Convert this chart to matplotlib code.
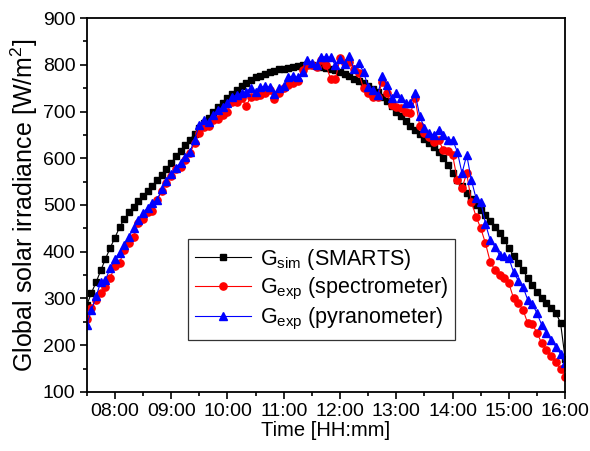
import numpy as np
import matplotlib
matplotlib.use('Agg')
import matplotlib.pyplot as plt
from matplotlib.ticker import MultipleLocator, FuncFormatter

plt.rcParams['font.family'] = ['Liberation Sans', 'DejaVu Sans']
plt.rcParams['mathtext.fontset'] = 'custom'
plt.rcParams['mathtext.rm'] = 'Liberation Sans'

# 5-minute samples, 07:30 .. 16:00 (hours)
hours = 7.5 + np.arange(103) / 12

g_sim = [285, 312, 335, 360, 385, 408, 430, 452, 470, 484,
         496, 508, 519, 530, 541, 553, 565, 576, 590, 604,
         616, 628, 640, 652, 664, 676, 687, 698, 709, 719,
         729, 738, 747, 755, 762, 768, 773, 777, 781, 784,
         787, 790, 792, 794, 796, 798, 799, 800, 799, 798,
         796, 794, 791, 788, 784, 780, 775, 770, 765, 760,
         755, 749, 741, 732, 722, 711, 700, 690, 680, 670,
         661, 652, 642, 632, 623, 614, 601, 585, 568, 554,
         540, 526, 513, 501, 490, 478, 466, 453, 440, 424,
         408, 391, 376, 360, 344, 328, 314, 302, 291, 280,
         269, 248, 170]

g_spectro = [255, 280, 297, 312, 325, 343, 370, 376, 404, 418,
             432, 461, 470, 486, 487, 511, 530, 546, 563, 578,
             582, 596, 611, 632, 653, 667, 669, 682, 685, 693,
             700, 721, 721, 728, 712, 732, 733, 735, 739, 746,
             726, 739, 750, 757, 760, 766, 789, 800, 800, 795,
             810, 800, 769, 769, 814, 803, 807, 792, 782, 750,
             739, 732, 730, 764, 739, 714, 710, 707, 700, 696,
             728, 668, 653, 646, 635, 639, 618, 615, 607, 553,
             536, 568, 507, 475, 450, 418, 379, 361, 350, 343,
             332, 300, 290, 276, 247, 245, 226, 204, 190, 176,
             163, 150, 131]

g_pyrano = [243, 275, 305, 335, 340, 365, 385, 398, 415, 432,
            450, 468, 482, 494, 505, 510, 535, 552, 567, 580,
            590, 603, 614, 640, 671, 682, 678, 693, 703, 710,
            718, 732, 735, 739, 742, 750, 742, 752, 754, 752,
            738, 750, 754, 773, 776, 773, 785, 810, 804, 799,
            817, 817, 816, 799, 812, 802, 819, 790, 803, 785,
            752, 746, 735, 776, 757, 728, 739, 728, 718, 719,
            739, 690, 664, 653, 650, 660, 650, 639, 639, 614,
            568, 607, 553, 514, 507, 460, 425, 411, 393, 390,
            386, 356, 338, 325, 297, 288, 268, 243, 227, 211,
            197, 181, 161]

fig = plt.figure(figsize=(5.9, 4.51), dpi=100)
ax = fig.add_axes([0.147, 0.131, 0.811, 0.829])

ax.plot(hours, g_sim, '-s', color='black', lw=0.8, ms=4.2,
        label=r'G$_\mathregular{sim}$ (SMARTS)')
ax.plot(hours, g_spectro, '-o', color='red', lw=0.8, ms=5.2,
        label=r'G$_\mathregular{exp}$ (spectrometer)')
ax.plot(hours, g_pyrano, '-^', color='blue', lw=0.8, ms=5.8,
        label=r'G$_\mathregular{exp}$ (pyranometer)')

ax.set_xlim(7.5, 16.0)
ax.set_ylim(100, 900)
ax.xaxis.set_major_locator(MultipleLocator(1))
ax.xaxis.set_minor_locator(MultipleLocator(0.5))
ax.xaxis.set_major_formatter(FuncFormatter(lambda v, p: '%02d:00' % int(round(v))))
ax.yaxis.set_major_locator(MultipleLocator(100))
ax.yaxis.set_minor_locator(MultipleLocator(50))

ax.tick_params(which='both', direction='out', top=False, right=False, labelsize=14, width=1.2)
ax.tick_params(which='major', length=5, pad=3)
ax.tick_params(which='minor', length=3)
for s in ax.spines.values():
    s.set_linewidth(1.3)

ax.set_xlabel('Time [HH:mm]', fontsize=14.5, labelpad=1)
ax.set_ylabel('Global solar irradiance [W/m$^2$]', fontsize=18, labelpad=2)

leg = ax.legend(loc='lower left', bbox_to_anchor=(0.211, 0.139), borderaxespad=0,
                fontsize=15.5, frameon=True, fancybox=False, edgecolor='black',
                handlelength=2.6, borderpad=0.35, labelspacing=0.2, handletextpad=0.4)
leg.get_frame().set_linewidth(0.9)

fig.savefig('out.png', dpi=100)
